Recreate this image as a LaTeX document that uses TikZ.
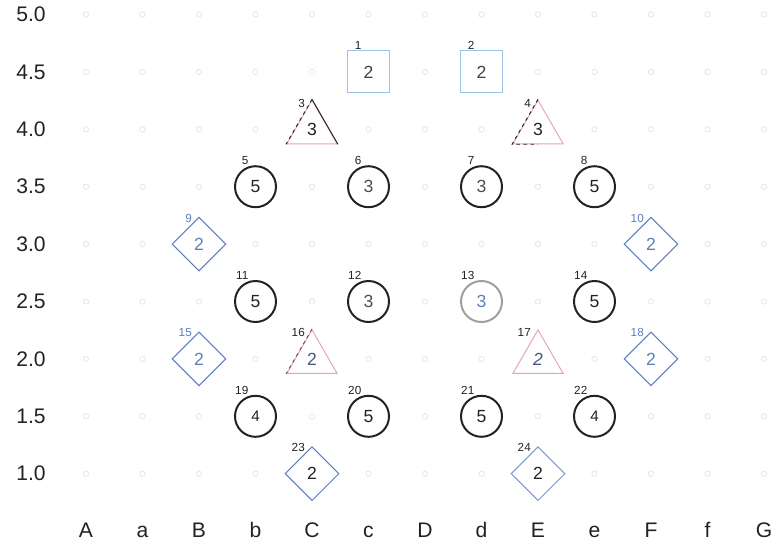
\documentclass[tikz,border=0pt]{standalone}
\usepackage{fontspec}
\setmainfont{Liberation Sans}
\usetikzlibrary{shapes.geometric,calc}
\definecolor{dblue}{HTML}{5B7FC0}
\definecolor{lblue}{HTML}{9CC2E8}
\definecolor{tpink}{HTML}{E8A3AE}
\definecolor{ink}{HTML}{222222}
\begin{document}
\begin{tikzpicture}[x=0.03cm,y=-0.03cm,
  axislbl/.style={font=\fontsize{18}{18}\selectfont, text=ink},
  circ/.style={circle, draw=ink, fill=white, line width=1.7pt, minimum size=1.23cm, inner sep=0pt, font=\fontsize{15}{15}\selectfont, text=ink},
  sq/.style={rectangle, draw=lblue, fill=white, line width=0.7pt, minimum size=1.26cm, inner sep=0pt, font=\fontsize{15}{15}\selectfont, text=ink!85},
  dia/.style={diamond, aspect=1, draw=dblue, fill=white, line width=0.9pt, minimum size=1.62cm, inner sep=0pt, font=\fontsize{15}{15}\selectfont, text=dblue},
  tri/.style={regular polygon, regular polygon sides=3, draw=tpink, fill=white, line width=0.8pt, minimum size=1.74cm, inner sep=0pt, font=\fontsize{15}{15}\selectfont, text=ink},
  idx/.style={font=\fontsize{10}{10}\selectfont, text=ink, anchor=east, inner sep=0pt},
  gdot/.style={circle, draw=gray!18, line width=0.8pt, minimum size=0.16cm, inner sep=0pt}
]
\useasboundingbox (0,0) rectangle (783,550);

% grid coordinates and faint grid markers
\foreach \n [count=\i from 0] in {A,a,B,b,C,c,D,d,E,e,F,f,G} {
  \foreach \r [count=\j from 0] in {50,45,40,35,30,25,20,15,10} {
    \coordinate (p\n\r) at ({86+56.5*\i},{14.5+57.4*\j});
    \node[gdot] (g\n\r) at (p\n\r) {};
  }
}

% row labels
\foreach \t/\r [count=\j from 0] in {5.0/50,4.5/45,4.0/40,3.5/35,3.0/30,2.5/25,2.0/20,1.5/15,1.0/10} {
  \node[axislbl] (row\r) at (31,{14.5+57.4*\j}) {\t};
}
% column labels
\foreach \n [count=\i from 0] in {A,a,B,b,C,c,D,d,E,e,F,f,G} {
  \node[axislbl, anchor=base] (col\n) at ({86+56.5*\i},537.5) {\n};
}

% squares
\node[sq] (s1) at (pc45) {2};
\node[sq] (s2) at (pd45) {2};

% triangles
\node[tri] (t3) at (pC40) {3};
\draw[ink, line width=0.8pt, dashed] (t3.corner 1) -- (t3.corner 2);
\draw[ink, line width=0.8pt] (t3.corner 1) -- (t3.corner 3);
\node[tri] (t4) at (pE40) {3};
\draw[ink, line width=0.8pt, dashed] (t4.corner 1) -- (t4.corner 2) -- ($(t4.corner 2)!0.5!(t4.corner 3)$);
\node[tri, text=dblue!70!black] (t16) at (pC20) {2};
\draw[ink!80, line width=0.7pt, dashed] (t16.corner 1) -- (t16.corner 2);
\node[tri, text=dblue!70!black] (t17) at (pE20) {\itshape 2};

% circles
\node[circ] (c5) at (pb35) {5};
\node[circ, text=ink!80] (c6) at (pc35) {3};
\node[circ, text=ink!80] (c7) at (pd35) {3};
\node[circ] (c8) at (pe35) {5};
\node[circ] (c11) at (pb25) {5};
\node[circ, text=ink!80] (c12) at (pc25) {3};
\node[circ, draw=gray!75, text=dblue] (c13) at (pd25) {3};
\node[circ] (c14) at (pe25) {5};
\node[circ, font=\fontsize{13}{13}\selectfont] (c19) at (pb15) {4};
\node[circ] (c20) at (pc15) {5};
\node[circ] (c21) at (pd15) {5};
\node[circ, font=\fontsize{13}{13}\selectfont] (c22) at (pe15) {4};

% diamonds
\node[dia] (d9) at (pB30) {2};
\node[dia] (d10) at (pF30) {2};
\node[dia] (d15) at (pB20) {2};
\node[dia] (d18) at (pF20) {2};
\node[dia, text=ink] (d23) at (pC10) {2};
\node[dia, draw=dblue!80, text=ink] (d24) at (pE10) {2};

% index labels
\foreach \nm/\t/\c in {s1/1/ink, s2/2/ink, t3/3/ink, t4/4/ink, c5/5/ink, c6/6/ink, c7/7/ink, c8/8/ink,
  d9/9/dblue, d10/10/dblue, c11/11/ink, c12/12/ink, c13/13/ink, c14/14/ink, d15/15/dblue, t16/16/ink,
  t17/17/ink, d18/18/dblue, c19/19/ink, c20/20/ink, c21/21/ink, c22/22/ink, d23/23/ink, d24/24/ink} {
  \node[idx, text=\c] (l\nm) at ([shift={(-7,-26)}]\nm.center) {\t};
}
\end{tikzpicture}
\end{document}
